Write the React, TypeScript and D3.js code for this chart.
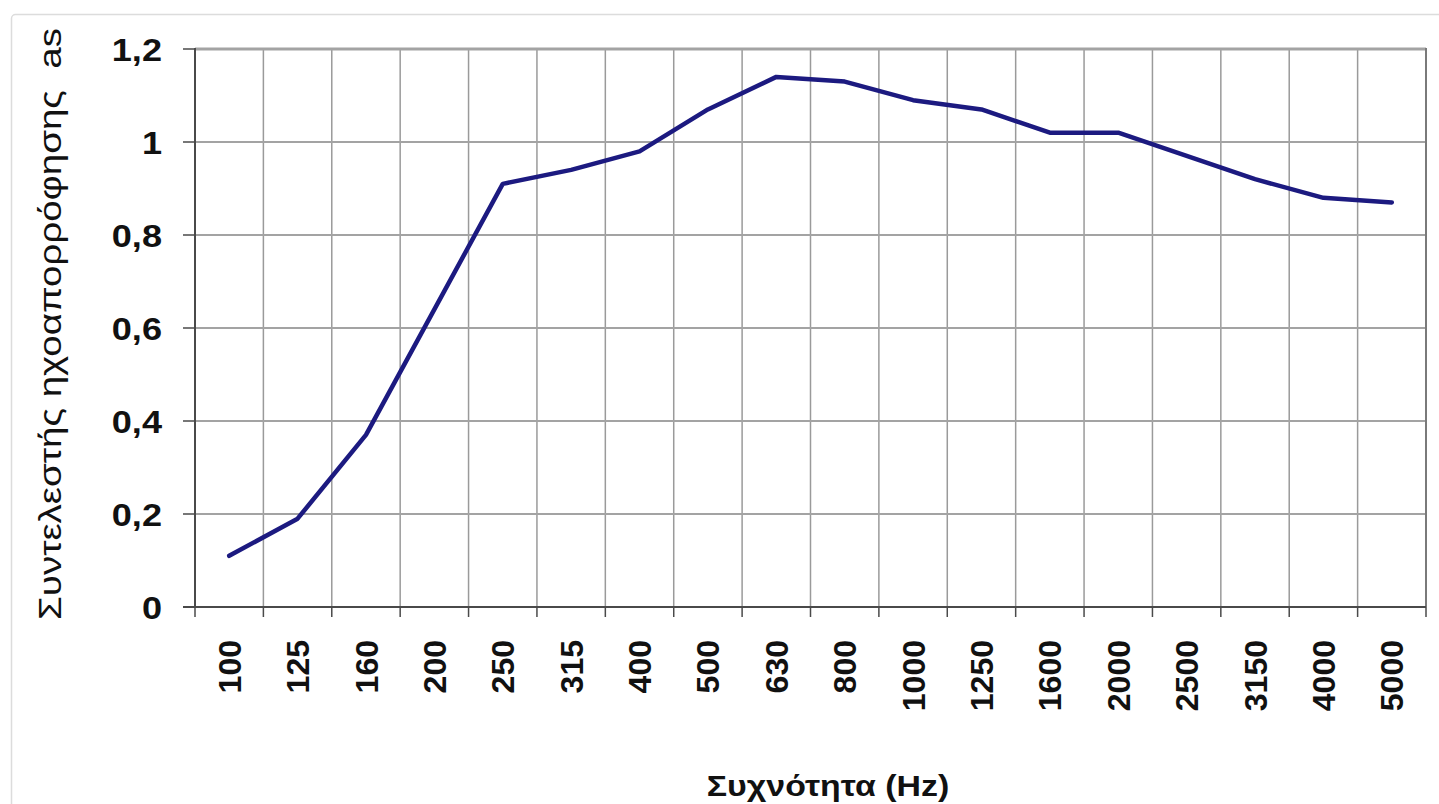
import React from "react";
import { scaleBand, scaleLinear, line, curveLinear } from "d3";

// frequency bands (Hz) and absorption coefficient
const freqs: string[] = [
	"100", "125", "160", "200", "250", "315", "400", "500", "630",
	"800", "1000", "1250", "1600", "2000", "2500", "3150", "4000", "5000",
];
const alphaS: number[] = [
	0.11, 0.19, 0.37, 0.64, 0.91, 0.94, 0.98, 1.07, 1.14,
	1.13, 1.09, 1.07, 1.02, 1.02, 0.97, 0.92, 0.88, 0.87,
];
const yTicks: number[] = [0, 0.2, 0.4, 0.6, 0.8, 1, 1.2];

const yTitle = "Συντελεστής ηχοαπορρόφησης  as";
const xTitle = "Συχνότητα (Hz)";

const W = 1439;
const H = 804;
const plot = { left: 195, right: 1426, top: 49, bottom: 607 };
// the source image is stretched sideways a bit, glyphs look wider than tall
const stretch = 1.13;
const font = "'Liberation Sans', Arial, sans-serif";

const fmt = (v: number) => String(+v.toFixed(1)).replace(".", ",");

const App: React.FC = () => {
	const x = scaleBand<string>()
		.domain(freqs)
		.range([plot.left, plot.right])
		.padding(0);
	const y = scaleLinear().domain([0, 1.2]).range([plot.bottom, plot.top]);

	const path = line<number>()
		.x((_, i) => (x(freqs[i]) || 0) + x.bandwidth() / 2)
		.y((d) => y(d))
		.curve(curveLinear)(alphaS);

	const bounds = freqs.map((f) => x(f) || 0).concat([plot.right]);

	return (
		<svg
			width={W}
			height={H}
			style={{ position: "absolute", left: 0, top: 0, background: "#fff" }}
			fontFamily={font}>
			{/* outer frame, runs off the right and bottom */}
			<rect
				x={11.5}
				y={14.5}
				width={W}
				height={H}
				rx={4}
				fill="#fff"
				stroke="#dcdcdc"
				strokeWidth={1.5}
			/>

			{/* vertical grid at band edges */}
			{bounds.slice(1, -1).map((bx, i) => (
				<line
					key={`vg${i}`}
					x1={bx}
					x2={bx}
					y1={plot.top}
					y2={plot.bottom}
					stroke="#9a9a9a"
					strokeWidth={1.5}
				/>
			))}
			{/* horizontal grid */}
			{yTicks.slice(1).map((t) => (
				<line
					key={`hg${t}`}
					x1={plot.left}
					x2={plot.right}
					y1={y(t)}
					y2={y(t)}
					stroke="#a3a3a3"
					strokeWidth={t === 1.2 ? 3 : 2}
				/>
			))}
			{/* right edge */}
			<line
				x1={plot.right}
				x2={plot.right}
				y1={plot.top - 1}
				y2={plot.bottom}
				stroke="#7a7a7a"
				strokeWidth={2}
			/>

			{/* axes */}
			<line
				x1={plot.left}
				x2={plot.left}
				y1={plot.top - 1}
				y2={plot.bottom}
				stroke="#4a4a4a"
				strokeWidth={2}
			/>
			<line
				x1={plot.left - 12}
				x2={plot.right}
				y1={plot.bottom}
				y2={plot.bottom}
				stroke="#4a4a4a"
				strokeWidth={2}
			/>
			{yTicks.map((t) => (
				<line
					key={`yt${t}`}
					x1={plot.left - 12}
					x2={plot.left}
					y1={y(t)}
					y2={y(t)}
					stroke="#4a4a4a"
					strokeWidth={1.5}
				/>
			))}
			{bounds.map((bx, i) => (
				<line
					key={`xt${i}`}
					x1={bx}
					x2={bx}
					y1={plot.bottom}
					y2={plot.bottom + 10}
					stroke="#4a4a4a"
					strokeWidth={1.5}
				/>
			))}

			{/* y tick labels */}
			{yTicks.map((t) => (
				<text
					key={`yl${t}`}
					transform={`translate(162, ${y(t)}) scale(${stretch}, 1)`}
					textAnchor="end"
					dy="0.36em"
					fontSize={32}
					fontWeight="bold"
					fill="#111">
					{fmt(t)}
				</text>
			))}

			{/* x tick labels, rotated */}
			{freqs.map((f) => (
				<text
					key={`xl${f}`}
					transform={`translate(${(x(f) || 0) + x.bandwidth() / 2}, 640) rotate(-90)`}
					textAnchor="end"
					dy="0.36em"
					fontSize={32}
					fontWeight="bold"
					fill="#111">
					{f}
				</text>
			))}

			{/* data line */}
			<path
				d={path || ""}
				fill="none"
				stroke="#1c1a80"
				strokeWidth={4.5}
				strokeLinejoin="round"
				strokeLinecap="round"
			/>

			{/* axis titles */}
			<text
				transform={`translate(50, 324) scale(1.12, 1) rotate(-90)`}
				textAnchor="middle"
				dy="0.35em"
				fontSize={28}
				fill="#111"
				textLength={592}
				lengthAdjust="spacingAndGlyphs"
				style={{ whiteSpace: "pre" }}>
				{yTitle}
			</text>
			<text
				transform={`translate(828, 796) scale(${stretch}, 1)`}
				textAnchor="middle"
				fontSize={30}
				fontWeight="bold"
				fill="#111">
				{xTitle}
			</text>
		</svg>
	);
};

export default App;
